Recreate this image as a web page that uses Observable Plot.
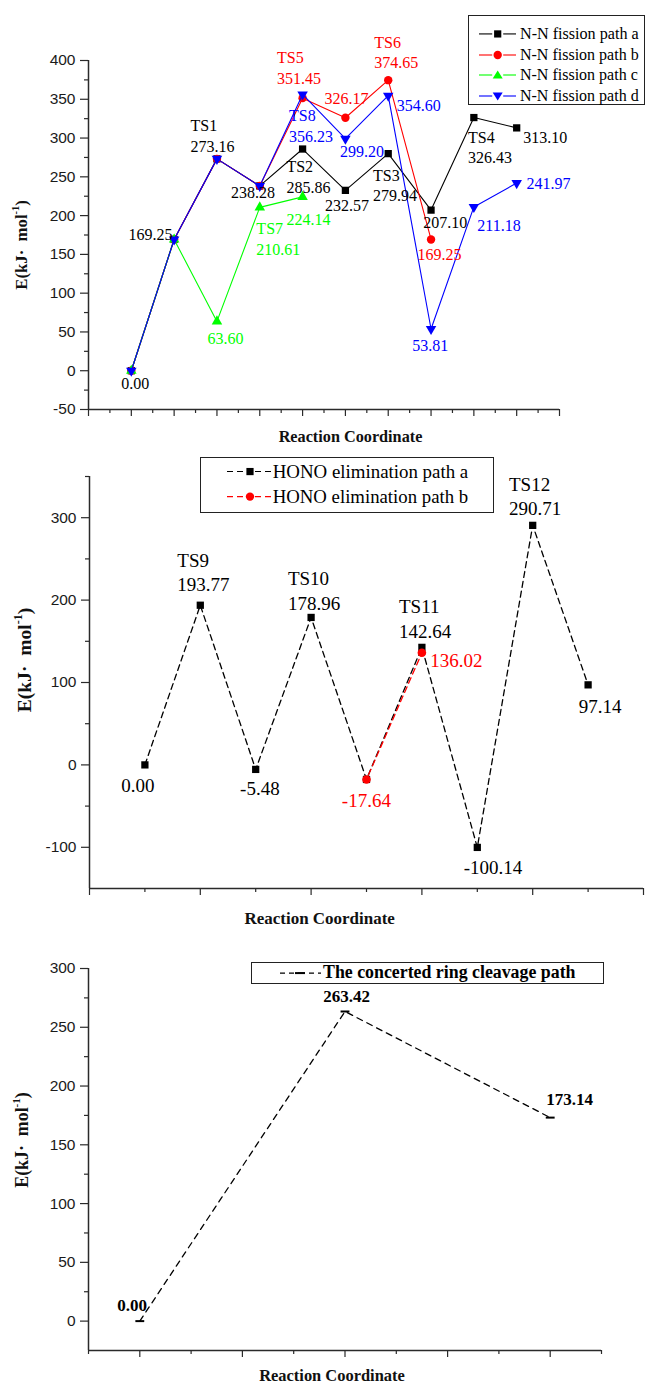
<!DOCTYPE html>
<html>
<head>
<meta charset="utf-8">
<script src="https://cdn.jsdelivr.net/npm/d3@7"></script>
<script src="https://cdn.jsdelivr.net/npm/@observablehq/plot@0.6"></script>
<style>
  body { margin: 0; background: #fff; }
  #page { position: relative; width: 645px; height: 1391px; overflow: hidden; background: #fff; }
  .panel { position: absolute; left: 0; width: 645px; }
  .panel svg { display: block; }
  .ytitle, .xtitle { position: absolute; font-family: "Liberation Serif", "Times New Roman", serif; font-weight: bold; white-space: nowrap; color: #111; line-height: 1; }
  .ytitle { transform: translate(-50%, -50%) rotate(-90deg); }
  .xtitle { transform: translate(-50%, -50%); }
  .sup { font-size: 0.62em; position: relative; top: -0.75em; }
  .legend { position: absolute; border: 1px solid #222; background: #fff; box-sizing: border-box; font-family: "Liberation Serif", "Times New Roman", serif; color: #000; }
  .legend .row { position: absolute; display: flex; align-items: center; white-space: nowrap; transform: translateY(-50%); line-height: 1; }
  .legend .row svg { display: block; flex: none; }
  g[aria-label="y-axis tick label"] text { font-family: "Liberation Sans", Arial, sans-serif !important; }
</style>
</head>
<body>
<div id="page"></div>
<script>
// ---------------- DATA ----------------
// Panel 1: N-N fission paths (reaction coordinate steps 0..9)
const nnNames = ["N-N fission path a", "N-N fission path b", "N-N fission path c", "N-N fission path d"];
const nnPathA = [0.00, 169.25, 273.16, 238.28, 285.86, 232.57, 279.94, 207.10, 326.43, 313.10];
const nnPathB = [0.00, 169.25, 273.16, 238.28, 351.45, 326.17, 374.65, 169.25];
const nnPathC = [0.00, 169.25, 63.60, 210.61, 224.14];
const nnPathD = [0.00, 169.25, 273.16, 238.28, 356.23, 299.20, 354.60, 53.81, 211.18, 241.97];
const nnTsA = ["", "", "TS1", "", "TS2", "", "TS3", "", "TS4", ""];
const nnTsB = ["", "", "", "", "TS5", "", "TS6", ""];
const nnTsC = ["", "", "", "TS7", ""];
const nnTsD = ["", "", "", "", "TS8", "", "", "", "", ""];

// Panel 2: HONO elimination paths
const honoNames = ["HONO elimination path a", "HONO elimination path b"];
const honoStepsA = [0, 1, 2, 3, 4, 5, 6, 7, 8];
const honoPathA = [0.00, 193.77, -5.48, 178.96, -17.64, 142.64, -100.14, 290.71, 97.14];
const honoTsA = ["", "TS9", "", "TS10", "", "TS11", "", "TS12", ""];
const honoStepsB = [4, 5];
const honoPathB = [-17.64, 136.02];
const honoTsB = ["", ""];

// Panel 3: concerted ring cleavage
const ringName = "The concerted ring cleavage path";
const ringSteps = [0, 4, 8];
const ringValues = [0.00, 263.42, 173.14];

// Axis tick values
const nnYTicks = [-50, 0, 50, 100, 150, 200, 250, 300, 350, 400];
const honoYTicks = [-100, 0, 100, 200, 300];
const ringYTicks = [0, 50, 100, 150, 200, 250, 300];
const yTitleParts = ["E(kJ\u00B7\u00A0\u00A0mol", "-1", ")"];
const xTitle = "Reaction Coordinate";

// ---------------- LAYOUT / STYLE ----------------
const AXIS = "#2a2a2a";
const nnStyles = [
  {color: "#000000", symbol: "square", r: 4.1},
  {color: "#ff0000", symbol: "circle", r: 4.2},
  {color: "#00ff00", symbol: "triangle", r: 3.9},
  {color: "#0000ff", symbol: "triangleDown", r: 3.9}
];
// label offsets in pixels (left edge / vertical centre) relative to the point, keyed by step
const nnLabelLayout = [
  {0: [-10, 12], 1: [-45.7, -5.7], 2: [-26.5, -24], 3: [-28.7, 5.3], 4: [-16.2, 26.7], 5: [-20.4, 13.8], 6: [-15.2, 30.8], 7: [-7.8, 11.7], 8: [-5.9, 29], 9: [6.5, 8.5]},
  {4: [-25.5, -31.3], 5: [-21, -20.4], 6: [-13.9, -28.5], 7: [-13.5, 14]},
  {2: [-9.5, 15.6], 3: [-3.4, 30.5], 4: [-16.2, 21.3]},
  {4: [-13.5, 30.7], 5: [-5.4, 12], 6: [8.4, 9], 7: [-18.8, 15.6], 8: [3.4, 17.4], 9: [9.8, -0.3]}
];
const honoLabelLayoutA = {0: [-23.7, 19.3], 1: [-23, -33.9], 2: [-15.6, 18.2], 3: [-23.2, -27.7], 5: [-22.9, -29.6], 6: [-13.6, 19.2], 7: [-23.7, -30.1], 8: [-9.4, 20.3]};
const honoLabelLayoutB = {4: [-24.7, 19.8], 5: [8.4, 6]};
const ringLabelLayout = {0: [-22.6, -17.3], 4: [-21.8, -16.2], 8: [-4, -19.5]};

const triangleDown = {
  draw(ctx, size) {
    const y = Math.sqrt(size / (Math.sqrt(3) * 3));
    ctx.moveTo(0, 2 * y);
    ctx.lineTo(-Math.sqrt(3) * y, -y);
    ctx.lineTo(Math.sqrt(3) * y, -y);
    ctx.closePath();
  }
};
const hDash = {
  draw(ctx, size) {
    const w = Math.sqrt(size);
    ctx.moveTo(-w / 2, 0);
    ctx.lineTo(w / 2, 0);
  }
};
function sym(name) { return name === "triangleDown" ? triangleDown : name; }

function rowsOf(steps, values, ts) {
  return values.map((E, i) => ({
    step: steps[i], E,
    label: ts && ts[i] ? ts[i] + "\n" + E.toFixed(2) : E.toFixed(2)
  }));
}

function labelMarks(rows, layout, opts) {
  const out = [];
  for (const key of Object.keys(layout)) {
    const row = rows.find(r => r.step === +key);
    if (!row) continue;
    const [dx, dy] = layout[key];
    out.push(Plot.text([row], {
      x: "step", y: "E", text: "label", dx, dy,
      textAnchor: "start", lineAnchor: "middle", lineHeight: 1.28,
      fontFamily: "Liberation Serif", ...opts
    }));
  }
  return out;
}

function axesMarks({xMajor, xMinor, yMajor, yMinor, xMin, yMin, yFont}) {
  return [
    Plot.axisY(yMinor, {tickSize: 4, tickFormat: () => "", label: null, stroke: AXIS, strokeWidth: 1.2}),
    Plot.axisY(yMajor, {tickSize: 8, tickPadding: 5, label: null, stroke: AXIS, strokeWidth: 1.2, fill: "#1a1a1a",
      fontSize: yFont, fontFamily: "Liberation Sans", tickFormat: d => String(d)}),
    Plot.axisX(xMinor, {tickSize: 4, tickFormat: () => "", label: null, stroke: AXIS, strokeWidth: 1.2}),
    Plot.axisX(xMajor, {tickSize: 7, tickFormat: () => "", label: null, stroke: AXIS, strokeWidth: 1.2}),
    Plot.ruleX([xMin], {stroke: AXIS, strokeWidth: 1.5}),
    Plot.ruleY([yMin], {stroke: AXIS, strokeWidth: 1.5})
  ];
}

function panel(top, height) {
  const d = document.createElement("div");
  d.className = "panel";
  d.style.top = top + "px";
  d.style.height = height + "px";
  document.getElementById("page").appendChild(d);
  return d;
}
// scale an element's font so its unrotated text length matches the reference length
function fitWidth(el, target) {
  const w = el.offsetWidth;
  if (w > 0) {
    const fs = parseFloat(el.style.fontSize || getComputedStyle(el).fontSize);
    el.style.fontSize = (fs * target / w).toFixed(2) + "px";
  }
}
function addTitles(div, yPos, yLen, xPos, xLen) {
  const yt = document.createElement("div");
  yt.className = "ytitle";
  yt.style.left = yPos[0] + "px"; yt.style.top = yPos[1] + "px"; yt.style.fontSize = "16px";
  yt.innerHTML = yTitleParts[0] + '<span class="sup">' + yTitleParts[1] + '</span>' + yTitleParts[2];
  div.appendChild(yt);
  fitWidth(yt, yLen);
  const xt = document.createElement("div");
  xt.className = "xtitle";
  xt.style.left = xPos[0] + "px"; xt.style.top = xPos[1] + "px"; xt.style.fontSize = "16px";
  xt.textContent = xTitle;
  div.appendChild(xt);
  fitWidth(xt, xLen);
}
function symbolSvg(kind, cx, cy, color) {
  if (kind === "square") return `<rect x="${cx - 3.6}" y="${cy - 3.6}" width="7.2" height="7.2" fill="${color}"/>`;
  if (kind === "circle") return `<circle cx="${cx}" cy="${cy}" r="4.2" fill="${color}"/>`;
  if (kind === "triangle") return `<polygon points="${cx},${cy - 4.6} ${cx - 5},${cy + 3.6} ${cx + 5},${cy + 3.6}" fill="${color}"/>`;
  if (kind === "triangleDown") return `<polygon points="${cx},${cy + 4.6} ${cx - 5},${cy - 3.6} ${cx + 5},${cy - 3.6}" fill="${color}"/>`;
  if (kind === "dash") return `<line x1="${cx - 5}" x2="${cx + 5}" y1="${cy}" y2="${cy}" stroke="${color}" stroke-width="2"/>`;
  return "";
}
function sample(width, symX, color, kind, dash, gap) {
  const h = 12, cy = 6;
  const da = dash ? `stroke-dasharray="${dash}"` : "";
  return `<svg width="${width}" height="${h}">` +
    `<line x1="0" x2="${symX - gap}" y1="${cy}" y2="${cy}" stroke="${color}" stroke-width="1.1" ${da}/>` +
    `<line x1="${symX + gap}" x2="${width}" y1="${cy}" y2="${cy}" stroke="${color}" stroke-width="1.1" ${da}/>` +
    symbolSvg(kind, symX, cy, color) + `</svg>`;
}
function addLegend(div, box, entries) {
  const lg = document.createElement("div");
  lg.className = "legend";
  Object.assign(lg.style, {left: box.left + "px", top: box.top + "px", width: box.width + "px", height: box.height + "px",
    fontSize: "16px", fontWeight: box.bold ? "bold" : "normal"});
  div.appendChild(lg);
  entries.forEach((e, i) => {
    const r = document.createElement("div");
    r.className = "row";
    r.style.left = box.rowLeft + "px";
    r.style.top = box.rowTops[i] + "px";
    r.innerHTML = sample(box.sw, box.symX, e.color, e.kind, box.dash, box.gap) +
      `<span style="margin-left:${box.textGap}px;font-size:16px">${e.name}</span>`;
    lg.appendChild(r);
    fitWidth(r.querySelector("span"), box.textLens[i]);
  });
}

// ---------------- PANEL 1 ----------------
{
  const div = panel(0, 448);
  const seriesVals = [nnPathA, nnPathB, nnPathC, nnPathD];
  const seriesTs = [nnTsA, nnTsB, nnTsC, nnTsD];
  const seriesRows = seriesVals.map((v, k) => rowsOf(v.map((_, i) => i), v, seriesTs[k]));
  const marks = axesMarks({
    xMajor: d3.range(-1, 11), xMinor: d3.range(-0.5, 10, 1),
    yMajor: nnYTicks, yMinor: d3.range(-25, 400, 50), xMin: -1, yMin: -50, yFont: 15.5
  });
  seriesRows.forEach((rows, k) => {
    const s = nnStyles[k];
    marks.push(Plot.line(rows, {x: "step", y: "E", stroke: s.color, strokeWidth: 1.1}));
    marks.push(Plot.dot(rows, {x: "step", y: "E", symbol: sym(s.symbol), r: s.r, fill: s.color, stroke: "none"}));
  });
  seriesRows.forEach((rows, k) => {
    marks.push(...labelMarks(rows, nnLabelLayout[k], {fontSize: 16, fill: nnStyles[k].color}));
  });
  const chart = Plot.plot({
    width: 645, height: 448, marginLeft: 88, marginRight: 86, marginTop: 60, marginBottom: 39,
    x: {domain: [-1, 10], label: null}, y: {domain: [-50, 400], label: null},
    style: {fontFamily: "Liberation Sans", fontSize: "15px", background: "transparent", overflow: "visible"},
    marks
  });
  div.appendChild(chart);
  addTitles(div, [22, 245], 90, [350.5, 436.7], 144);
  addLegend(div, {left: 467.7, top: 15, width: 177.5, height: 90, rowLeft: 10.3,
    rowTops: [18, 38.5, 59, 79.5], sw: 37, symX: 18.7, gap: 5.5, textGap: 4, dash: null, textLens: [119, 119, 118, 119]},
    nnNames.map((name, k) => ({name, color: nnStyles[k].color, kind: nnStyles[k].symbol})));
}

// ---------------- PANEL 2 ----------------
{
  const div = panel(448, 482);
  const rowsA = rowsOf(honoStepsA, honoPathA, honoTsA);
  const rowsB = rowsOf(honoStepsB, honoPathB, honoTsB);
  const marks = axesMarks({
    xMajor: d3.range(-1, 10, 2), xMinor: d3.range(0, 9, 2),
    yMajor: honoYTicks, yMinor: d3.range(-50, 351, 100), xMin: -1, yMin: -150, yFont: 15.5
  });
  marks.push(Plot.line(rowsA, {x: "step", y: "E", stroke: "#000", strokeWidth: 1.3, strokeDasharray: "6,4"}));
  marks.push(Plot.dot(rowsA, {x: "step", y: "E", symbol: "square", r: 4.1, fill: "#000", stroke: "none"}));
  marks.push(Plot.line(rowsB, {x: "step", y: "E", stroke: "#ff0000", strokeWidth: 1.3, strokeDasharray: "6,4", strokeDashoffset: 5}));
  marks.push(Plot.dot(rowsB, {x: "step", y: "E", symbol: "circle", r: 4.3, fill: "#ff0000", stroke: "none"}));
  marks.push(...labelMarks(rowsA, honoLabelLayoutA, {fontSize: 19, fill: "#000"}));
  marks.push(...labelMarks(rowsB, honoLabelLayoutB, {fontSize: 19, fill: "#ff0000"}));
  const chart = Plot.plot({
    width: 645, height: 482, marginLeft: 89, marginRight: 2, marginTop: 28, marginBottom: 42,
    x: {domain: [-1, 9], label: null}, y: {domain: [-150, 350], label: null},
    style: {fontFamily: "Liberation Sans", fontSize: "15px", background: "transparent", overflow: "visible"},
    marks
  });
  div.appendChild(chart);
  addTitles(div, [25, 212], 105, [319.7, 470.3], 150.7);
  addLegend(div, {left: 200, top: 8.7, width: 294, height: 56, rowLeft: 25.7,
    rowTops: [14.3, 39.3], sw: 46, symX: 23, gap: 5, textGap: 0, dash: "6,4", textLens: [196, 196]},
    [{name: honoNames[0], color: "#000", kind: "square"}, {name: honoNames[1], color: "#ff0000", kind: "circle"}]);
}

// ---------------- PANEL 3 ----------------
{
  const div = panel(930, 461);
  const rows = rowsOf(ringSteps, ringValues, null);
  const marks = axesMarks({
    xMajor: d3.range(0, 9, 2), xMinor: d3.range(-1, 10, 2),
    yMajor: ringYTicks, yMinor: d3.range(25, 300, 50), xMin: -1, yMin: -25, yFont: 15.5
  });
  marks.push(Plot.line(rows, {x: "step", y: "E", stroke: "#000", strokeWidth: 1.3, strokeDasharray: "6,5"}));
  marks.push(Plot.dot(rows, {x: "step", y: "E", symbol: hDash, r: 5, fill: "none", stroke: "#000", strokeWidth: 2}));
  marks.push(...labelMarks(rows, ringLabelLayout, {fontSize: 17, fontWeight: "bold", fill: "#000"}));
  const chart = Plot.plot({
    width: 645, height: 461, marginLeft: 88, marginRight: 44, marginTop: 38, marginBottom: 41,
    x: {domain: [-1, 9], label: null}, y: {domain: [-25, 300], label: null},
    style: {fontFamily: "Liberation Sans", fontSize: "15px", background: "transparent", overflow: "visible"},
    marks
  });
  div.appendChild(chart);
  addTitles(div, [22.7, 210], 96, [332, 446], 146);
  addLegend(div, {left: 250.7, top: 31.7, width: 353.6, height: 22.5, bold: true, rowLeft: 28.3,
    rowTops: [10.3], sw: 41, symX: 20, gap: 0, textGap: 2, dash: "5,4", textLens: [253]},
    [{name: ringName, color: "#000", kind: "dash"}]);
}
</script>
</body>
</html>
